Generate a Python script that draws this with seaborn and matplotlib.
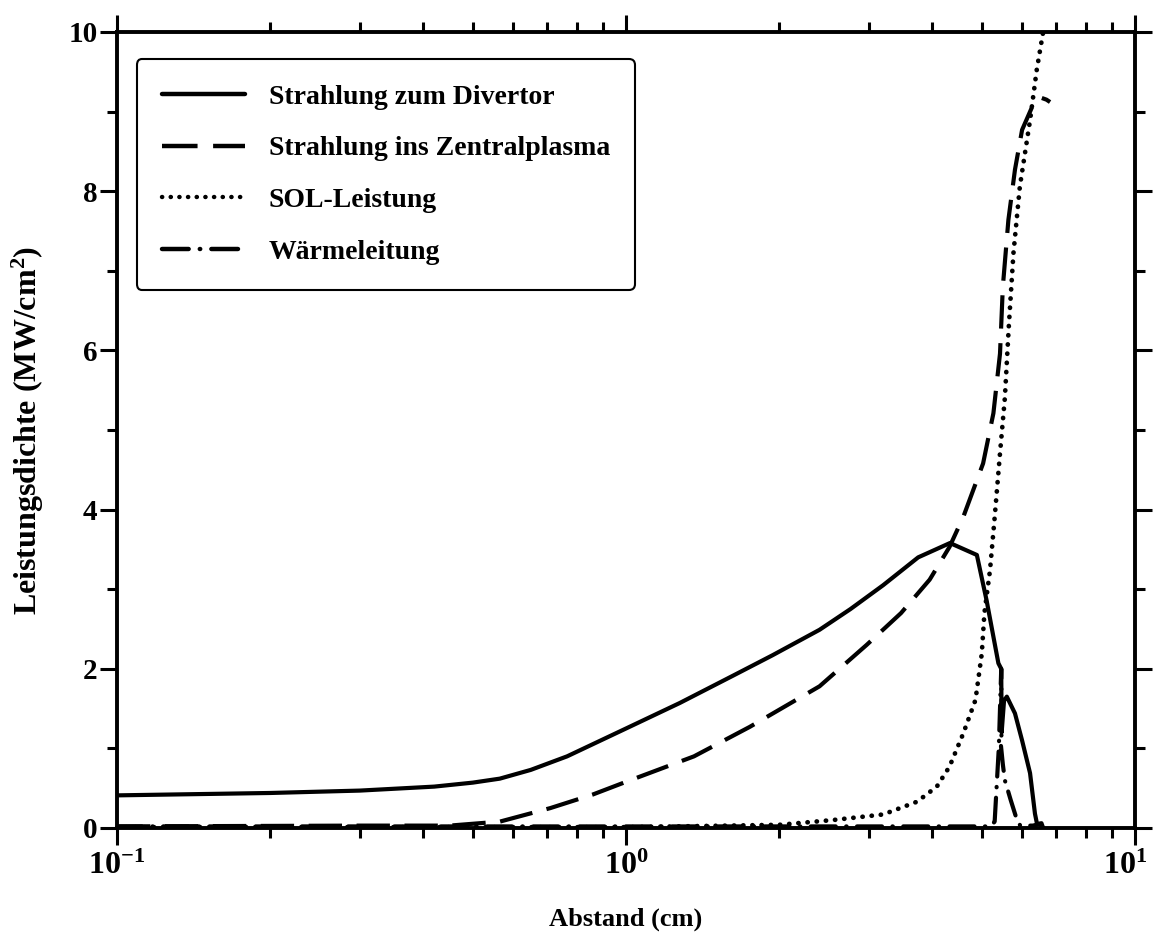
import numpy as np
import pandas as pd
import matplotlib
matplotlib.use("Agg")
import matplotlib.pyplot as plt
import matplotlib.transforms as mtransforms
from matplotlib.ticker import LogLocator, MultipleLocator, FixedLocator, NullFormatter
import seaborn as sns

# ---- data ----
div_x = [0.1, 0.2, 0.3, 0.42, 0.5, 0.565, 0.65, 0.766, 1.0, 1.275, 1.63, 1.94, 2.4, 2.76, 3.2, 3.75, 4.33,
         4.89, 5.11, 5.39, 5.46, 5.47, 5.53, 5.6, 5.81, 6.0, 6.22, 6.36, 6.42, 6.55, 6.6]
div_y = [0.41, 0.44, 0.47, 0.52, 0.57, 0.62, 0.73, 0.9, 1.25, 1.57, 1.92, 2.17, 2.49, 2.75, 3.05, 3.4, 3.58,
         3.43, 2.86, 2.07, 2.0, 1.2, 1.6, 1.65, 1.44, 1.1, 0.69, 0.18, 0.05, 0.06, 0.0]

zen_x = [0.1, 0.3, 0.45, 0.565, 0.71, 0.86, 1.0, 1.36, 1.75, 2.4, 2.97, 3.47, 3.95, 4.32, 4.6,
         5.03, 5.27, 5.43, 5.5, 5.64, 5.81, 6.0, 6.27, 6.5, 6.7, 6.81]
zen_y = [0.02, 0.03, 0.03, 0.08, 0.25, 0.42, 0.58, 0.9, 1.27, 1.78, 2.3, 2.7, 3.12, 3.53, 3.91,
         4.58, 5.21, 5.96, 6.8, 7.64, 8.27, 8.77, 9.05, 9.18, 9.15, 9.12]

sol_x = [0.1, 1.0, 2.0, 2.55, 3.2, 3.73, 4.08, 4.32, 4.6, 4.86, 5.0, 5.06, 5.19, 5.3, 5.43,
         5.55, 5.65, 5.77, 5.94, 6.22, 6.41, 6.6]
sol_y = [0.01, 0.01, 0.04, 0.1, 0.17, 0.33, 0.52, 0.77, 1.19, 1.61, 2.19, 2.7, 3.24, 3.9, 4.71,
         5.4, 6.3, 7.22, 8.06, 8.89, 9.52, 10.0]

wl_x = [0.1, 1.0, 3.0, 5.2, 5.3, 5.4, 5.46, 5.47, 5.45, 5.5, 5.55, 5.7, 5.85, 5.95, 6.3, 6.5, 6.6]
wl_y = [0.02, 0.02, 0.02, 0.02, 0.08, 1.0, 2.0, 1.2, 1.05, 0.8, 0.6, 0.35, 0.12, 0.03, 0.03, 0.05, 0.0]

labels = ["Strahlung zum Divertor", "Strahlung ins Zentralplasma", "SOL-Leistung", "Wärmeleitung"]

sns.set_theme(style="ticks")
plt.rcParams["font.family"] = ["Liberation Serif", "DejaVu Serif"]
plt.rcParams["font.weight"] = "bold"
plt.rcParams["text.color"] = "black"
plt.rcParams["axes.labelcolor"] = "black"
plt.rcParams["xtick.color"] = "black"
plt.rcParams["ytick.color"] = "black"
plt.rcParams["mathtext.fontset"] = "custom"
plt.rcParams["mathtext.rm"] = "Liberation Serif:bold"
plt.rcParams["mathtext.bf"] = "Liberation Serif:bold"
plt.rcParams["mathtext.it"] = "Liberation Serif:bold"
plt.rcParams["mathtext.default"] = "rm"

fig = plt.figure(figsize=(11.53, 9.39), dpi=100)
ax = fig.add_axes([117 / 1153, (939 - 828) / 939, (1135 - 117) / 1153, (828 - 32) / 939])

styles = [
    dict(ls="-", lw=3.0),
    dict(ls=(0, (8, 3.5)), lw=3.0),
    dict(ls=(0, (0.05, 1.9)), dash_capstyle="round", lw=3.4),
    dict(ls=(0, (6, 2.5, 0.1, 2.5)), dash_capstyle="round", lw=3.0),
]
series = [(div_x, div_y), (zen_x, zen_y), (sol_x, sol_y), (wl_x, wl_y)]
for (xs, ys), lab, st in zip(series, labels, styles):
    df = pd.DataFrame({"x": xs, "y": ys})
    sns.lineplot(data=df, x="x", y="y", ax=ax, color="black", label=lab,
                 sort=False, estimator=None, **st)

ax.set_xscale("log")
ax.set_xlim(0.1, 10)
ax.set_ylim(0, 10)

ax.xaxis.set_major_locator(FixedLocator([0.1, 1, 10]))
ax.set_xticklabels([r"$10^{-1}$", r"$10^{0}$", r"$10^{1}$"])
ax.xaxis.set_minor_locator(LogLocator(base=10, subs=np.arange(2, 10)))
ax.xaxis.set_minor_formatter(NullFormatter())
ax.yaxis.set_major_locator(MultipleLocator(2))
ax.yaxis.set_minor_locator(MultipleLocator(1))

ax.tick_params(which="both", direction="out", top=True, right=True, width=2.2, colors="black")
ax.tick_params(which="major", length=12, labelsize=21)
ax.tick_params(which="minor", length=7)
ax.tick_params(axis="y", which="major", pad=2)
ax.tick_params(axis="x", which="major", pad=5, labelsize=23)
for lab in ax.get_yticklabels() + ax.get_xticklabels():
    lab.set_fontweight("bold")
for sp in ax.spines.values():
    sp.set_linewidth(2.8)
    sp.set_color("black")

# keep the right-most decade label inside the figure
shift = mtransforms.ScaledTranslation(-0.10, 0, fig.dpi_scale_trans)
last_tick = ax.xaxis.get_major_ticks()[-1]
last_tick.label1.set_transform(last_tick.label1.get_transform() + shift)

ax.set_xlabel("Abstand (cm)", fontsize=19, fontweight="bold", labelpad=19)
ax.set_ylabel(r"Leistungsdichte (MW/cm$^{2}$)", fontsize=23, fontweight="bold", labelpad=16)

leg = ax.legend(loc="upper left", bbox_to_anchor=(0.0194, 0.966), frameon=True, fancybox=True,
                fontsize=20, handlelength=3.0, handletextpad=0.85, labelspacing=0.95,
                borderpad=0.9, borderaxespad=0)
leg.get_frame().set_edgecolor("black")
leg.get_frame().set_linewidth(1.5)
leg.get_frame().set_alpha(1)
for line in leg.get_lines():
    line.set_linewidth(3.2)
for t in leg.get_texts():
    t.set_fontweight("bold")

fig.savefig("out.png", dpi=100)
